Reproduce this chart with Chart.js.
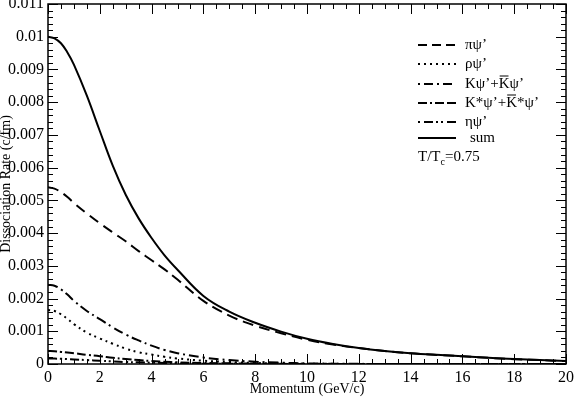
<!DOCTYPE html>
<html>
<head>
<meta charset="utf-8">
<script src="https://cdn.jsdelivr.net/npm/chart.js@4.4.1/dist/chart.umd.min.js"></script>
<style>
  body { margin: 0; background: #fff; }
  canvas { display: block; }
</style>
</head>
<body>
<canvas id="rate" width="574" height="398"></canvas>
<script>
// momentum grid (GeV/c)
var momentum = [0, 0.25, 0.5, 0.75, 1, 1.5, 2, 2.5, 3, 3.5, 4, 4.5, 5, 6, 7, 8, 9, 10, 11, 12, 13, 14, 15, 16, 17, 18, 19, 20];

// dissociation rates (c/fm)
var piPsi = [0.0054, 0.00536, 0.00525, 0.0051, 0.00492, 0.0046, 0.0043, 0.00402, 0.00375, 0.00345, 0.00317, 0.00289,
    0.00258, 0.00193, 0.00148, 0.00117, 0.00094, 0.00074, 0.000595, 0.000487, 0.000398, 0.000328, 0.000278,
    0.000236, 0.000188, 0.000148, 0.000118, 0.000088];
var rhoPsi = [0.00165, 0.00162, 0.00152, 0.00138, 0.00122, 0.00096, 0.00078, 0.00062, 0.00047, 0.00036, 0.00029,
    0.00022, 0.00017, 0.0001, 0.00006, 0.00003, 0.00002, 0.00001, 0.000005, 0, 0, 0, 0, 0, 0, 0, 0, 0];
var kPsi = [0.00242, 0.00239, 0.00228, 0.00212, 0.00193, 0.00162, 0.00137, 0.00112, 0.0009, 0.00072, 0.00056,
    0.00043, 0.00033, 0.0002, 0.00012, 0.00007, 0.00004, 0.00002, 0.00001, 0.000005, 0, 0, 0, 0, 0, 0, 0, 0];
var kStarPsi = [0.0004, 0.00039, 0.00037, 0.00035, 0.00033, 0.00028, 0.00024, 0.00019, 0.00015, 0.00012, 0.00009,
    0.00007, 0.00005, 0.00003, 0.00002, 0.00001, 0.000005, 0, 0, 0, 0, 0, 0, 0, 0, 0, 0, 0];
var etaPsi = [0.00017, 0.000165, 0.00016, 0.00015, 0.00014, 0.00012, 0.0001, 0.00008, 0.00006, 0.00005, 0.00004,
    0.00003, 0.00002, 0.00001, 0.000005, 0, 0, 0, 0, 0, 0, 0, 0, 0, 0, 0, 0, 0];
var sumRate = [0.01, 0.00995, 0.0098, 0.00952, 0.00915, 0.0082, 0.00712, 0.00606, 0.00517, 0.00445, 0.00385,
    0.00332, 0.00288, 0.00208, 0.0016, 0.00126, 0.00099, 0.00077, 0.00061, 0.00049, 0.0004, 0.00033, 0.00028,
    0.00024, 0.00019, 0.00015, 0.00012, 0.00009];

var xTicks = [0, 2, 4, 6, 8, 10, 12, 14, 16, 18, 20];
var yTicks = [0, 0.001, 0.002, 0.003, 0.004, 0.005, 0.006, 0.007, 0.008, 0.009, 0.01, 0.011];

var serif = "'Liberation Serif', 'DejaVu Serif', serif";

function toPoints(values) {
    var pts = [];
    for (var i = 0; i < momentum.length; i++) {
        pts.push({x: momentum[i], y: values[i]});
    }
    return pts;
}

function series(label, values, dash) {
    return {
        label: label,
        data: toPoints(values),
        borderColor: '#000',
        backgroundColor: 'transparent',
        borderWidth: 2,
        borderDash: dash,
        pointRadius: 0,
        fill: false,
        tension: 0.4
    };
}

// legend rows: text pieces, 'bar' marks a K with an overline
var legendRows = [
    {dash: [9, 5], parts: [['πψ’']]},
    {dash: [2, 4], parts: [['ρψ’']]},
    {dash: [2, 4, 9, 4], parts: [['Kψ’+'], ['K', 'bar'], ['ψ’']]},
    {dash: [9, 3, 2, 3, 9, 3], parts: [['K*ψ’+'], ['K', 'bar'], ['*ψ’']]},
    {dash: [2, 4, 9, 3, 2, 3], parts: [['ηψ’']]},
    {dash: [], parts: [['sum']]}
];
var legendY = [45, 64, 84, 103, 122, 138];

var framePlugin = {
    id: 'frame',
    afterDraw: function (chart) {
        var ctx = chart.ctx;
        var a = chart.chartArea;
        var xs = chart.scales.x, ys = chart.scales.y;
        ctx.save();
        ctx.strokeStyle = '#000';
        ctx.lineWidth = 1;
        ctx.beginPath();
        // x ticks, bottom and top
        for (var v = 0; v <= 20.001; v += 0.5) {
            var px = Math.round(xs.getPixelForValue(v)) + 0.5;
            var len = (Math.abs(v / 2 - Math.round(v / 2)) < 1e-6) ? 10 : 5;
            ctx.moveTo(px, a.bottom); ctx.lineTo(px, a.bottom - len);
            ctx.moveTo(px, a.top); ctx.lineTo(px, a.top + len);
        }
        // y ticks, left and right
        for (var k = 0; k <= 55; k++) {
            var py = Math.round(ys.getPixelForValue(k * 0.0002)) + 0.5;
            var l2 = (k % 5 === 0) ? 10 : 5;
            ctx.moveTo(a.left, py); ctx.lineTo(a.left + l2, py);
            ctx.moveTo(a.right, py); ctx.lineTo(a.right - l2, py);
        }
        ctx.stroke();
        ctx.lineWidth = 1.5;
        ctx.strokeRect(a.left, a.top, a.right - a.left, a.bottom - a.top);

        // legend
        ctx.font = '15px ' + serif;
        ctx.textBaseline = 'middle';
        ctx.fillStyle = '#000';
        for (var i = 0; i < legendRows.length; i++) {
            var row = legendRows[i];
            var y = legendY[i];
            ctx.lineWidth = 2;
            ctx.setLineDash(row.dash);
            ctx.beginPath();
            ctx.moveTo(418, y);
            ctx.lineTo(456, y);
            ctx.stroke();
            ctx.setLineDash([]);
            var tx = i === 5 ? 470 : 465;
            for (var j = 0; j < row.parts.length; j++) {
                var p = row.parts[j];
                var w = ctx.measureText(p[0]).width;
                ctx.fillText(p[0], tx, y);
                if (p[1] === 'bar') {
                    ctx.lineWidth = 1;
                    ctx.beginPath();
                    ctx.moveTo(tx + 1, y - 8);
                    ctx.lineTo(tx + w - 1, y - 8);
                    ctx.stroke();
                }
                tx += w;
            }
        }
        // temperature note
        var t1 = 'T/T';
        ctx.fillText(t1, 418, 157);
        var w1 = ctx.measureText(t1).width;
        ctx.font = '10px ' + serif;
        ctx.fillText('c', 418 + w1, 162);
        var w2 = ctx.measureText('c').width;
        ctx.font = '15px ' + serif;
        ctx.fillText('=0.75', 418 + w1 + w2, 157);
        ctx.restore();
    }
};

new Chart(document.getElementById('rate'), {
    type: 'line',
    data: {
        datasets: [
            series('πψ’', piPsi, [11, 6]),
            series('ρψ’', rhoPsi, [2, 4]),
            series('Kψ’+K̄ψ’', kPsi, [10, 4, 2, 4]),
            series('K*ψ’+K̄*ψ’', kStarPsi, [9, 3, 2, 3, 9, 3]),
            series('ηψ’', etaPsi, [9, 3, 2, 3, 2, 3]),
            series('sum', sumRate, [])
        ]
    },
    options: {
        responsive: false,
        animation: false,
        layout: {padding: {top: 4, right: 8, left: 0, bottom: 0}},
        plugins: {legend: {display: false}, tooltip: {enabled: false}},
        scales: {
            x: {
                type: 'linear',
                min: 0,
                max: 20,
                grid: {display: false, drawTicks: false},
                border: {display: false},
                afterBuildTicks: function (s) { s.ticks = xTicks.map(function (v) { return {value: v}; }); },
                afterFit: function (s) { s.height = 34; s.paddingLeft = 0; s.paddingRight = 0; },
                ticks: {
                    color: '#000',
                    padding: 4,
                    maxRotation: 0,
                    font: {family: serif, size: 16}
                },
                title: {
                    display: true,
                    text: 'Momentum (GeV/c)',
                    color: '#000',
                    padding: {top: 0, bottom: 0},
                    font: {family: serif, size: 14}
                }
            },
            y: {
                min: 0,
                max: 0.011,
                grid: {display: false, drawTicks: false},
                border: {display: false},
                afterBuildTicks: function (s) { s.ticks = yTicks.map(function (v) { return {value: v}; }); },
                afterFit: function (s) { s.width = 48; s.paddingTop = 0; s.paddingBottom = 0; },
                ticks: {
                    color: '#000',
                    padding: 4,
                    font: {family: serif, size: 16},
                    callback: function (v) { return String(parseFloat(v.toFixed(4))); }
                },
                title: {
                    display: true,
                    text: 'Dissociation Rate (c/fm)',
                    color: '#000',
                    padding: {top: 0, bottom: 0},
                    font: {family: serif, size: 14, lineHeight: 0.85}
                }
            }
        }
    },
    plugins: [framePlugin]
});
</script>
</body>
</html>
